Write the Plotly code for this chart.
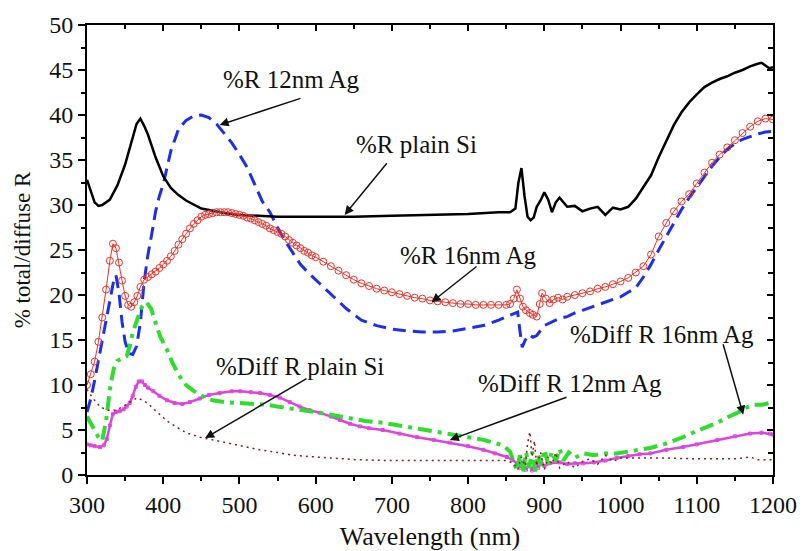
import plotly.graph_objects as go

# ---------------- data ----------------
wl_si = [300,305,310,315,320,330,340,350,360,365,370,375,380,385,390,400,410,420,430,450,480,500,550,600,650,700,750,800,840,855,862,866,870,874,878,882,886,890,895,900,905,910,915,920,930,940,950,960,970,980,990,1000,1010,1020,1030,1040,1050,1060,1070,1080,1090,1100,1110,1120,1130,1140,1150,1160,1170,1180,1185,1190,1195,1200]
r_si = [32.8,31.5,30.3,29.9,30.0,30.6,32.2,34.5,37.5,39.0,39.6,38.8,37.8,36.6,35.3,33.2,31.9,31.1,30.5,29.6,29.1,28.9,28.7,28.7,28.7,28.8,28.9,29.0,29.2,29.2,29.6,32.5,34.1,31.0,28.7,28.3,28.6,29.8,30.5,31.4,30.6,29.2,30.3,30.8,29.8,29.9,29.3,29.6,29.8,28.9,29.7,29.5,29.8,30.7,32.0,33.3,35.3,37.1,38.9,40.3,41.4,42.3,43.1,43.6,44.0,44.3,44.7,45.0,45.4,45.7,45.8,45.5,45.2,45.3]

wl_12 = [300,305,310,315,320,325,330,335,338,342,346,350,355,360,365,370,375,380,385,390,395,400,410,420,430,440,450,460,470,480,490,500,510,520,530,540,550,560,570,580,590,600,620,640,660,680,700,720,740,760,780,800,820,840,855,865,868,871,875,880,885,890,900,910,920,930,940,950,960,970,980,990,1000,1010,1020,1030,1040,1050,1060,1070,1080,1090,1100,1110,1120,1130,1140,1150,1160,1170,1180,1190,1200]
r_12 = [7.0,8.5,10.5,12.8,15.0,17.2,19.5,21.6,22.2,20.2,17.0,14.8,13.5,13.4,14.3,16.9,21.5,24.5,26.8,29.3,31.0,32.3,36.0,38.4,39.4,39.9,40.0,39.7,39.0,38.0,36.9,35.6,34.2,32.3,30.4,29.2,27.5,26.0,24.7,23.4,22.5,21.7,20.0,18.5,17.2,16.6,16.2,16.0,15.9,15.9,16.0,16.3,16.6,17.2,17.7,18.1,16.0,14.2,15.0,15.6,15.3,15.5,16.6,17.0,17.4,17.6,18.0,18.3,18.6,18.9,19.2,19.5,19.8,20.3,20.8,22.0,23.4,25.0,26.5,28.0,29.5,30.8,32.0,33.2,34.3,35.3,36.2,36.8,37.3,37.6,37.9,38.1,38.2]

wl_16 = [300,305,310,315,320,325,330,334,338,342,346,350,354,358,362,366,370,375,380,385,390,395,400,405,410,415,420,425,430,435,440,445,450,455,460,465,470,475,480,485,490,495,500,505,510,515,520,525,530,535,540,545,550,555,560,565,570,575,580,585,590,595,600,610,620,630,640,650,660,670,680,690,700,710,720,730,740,750,760,770,780,790,800,810,820,830,840,850,855,860,864,868,872,876,881,885,890,894,897,902,907,912,918,924,930,940,950,960,970,980,990,1000,1010,1020,1030,1040,1050,1060,1070,1080,1090,1100,1110,1120,1130,1140,1150,1160,1170,1180,1190,1200]
r_16 = [10.0,11.2,12.6,14.8,17.5,20.6,23.8,25.7,25.2,23.6,21.6,19.9,18.9,18.7,19.2,19.9,20.9,21.7,22.0,22.3,22.6,23.0,23.4,23.8,24.3,24.9,25.6,26.2,26.8,27.4,27.9,28.3,28.7,28.9,29.0,29.1,29.2,29.2,29.2,29.2,29.1,29.0,28.9,28.8,28.6,28.5,28.3,28.1,27.9,27.7,27.4,27.2,27.0,26.8,26.5,26.1,25.8,25.5,25.2,24.9,24.7,24.4,24.2,23.7,23.2,22.7,22.2,21.7,21.3,21.0,20.7,20.5,20.3,20.1,19.9,19.7,19.6,19.4,19.3,19.2,19.1,19.0,19.0,18.9,18.9,18.9,18.9,18.9,19.0,19.6,20.6,19.6,18.7,18.3,18.0,17.8,17.6,19.0,20.2,19.6,19.1,19.5,19.7,19.5,19.8,20.0,20.2,20.4,20.7,20.9,21.2,21.5,21.9,22.5,23.2,24.5,26.5,28.0,29.3,30.4,31.2,32.4,33.6,34.7,35.6,36.4,37.2,38.0,38.7,39.3,39.6,39.5]

wl_dsi = [300,308,317,326,339,347,356,366,373,379,392,405,418,430,448,470,484,500,527,550,570,600,615,654,700,800,850,860,865,870,875,878,881,884,887,890,895,900,905,910,915,920,930,940,950,960,970,980,990,1000,1050,1100,1150,1170,1180,1200]
d_si = [9.5,8.5,7.6,7.2,7.2,7.6,8.1,8.6,8.3,8.0,7.0,6.0,5.3,4.7,4.2,3.8,3.6,3.3,2.8,2.5,2.2,2.0,1.9,1.7,1.6,1.6,1.6,1.3,0.6,2.0,1.0,3.5,4.8,2.0,3.8,1.0,2.5,0.6,2.0,1.2,2.5,0.8,1.5,0.8,1.5,1.8,1.2,2.2,1.5,1.9,1.9,1.8,1.8,2.0,1.7,1.7]

wl_d12 = [300,305,310,317,322,326,330,334,338,343,348,352,356,360,364,368,372,376,380,387,395,405,415,425,435,448,460,474,490,501,515,527,540,553,566,579,592,606,620,632,645,658,670,688,710,733,755,776,800,820,835,851,858,864,868,872,876,880,884,888,892,896,900,907,920,930,940,951,965,980,995,1010,1025,1039,1060,1082,1100,1127,1150,1170,1185,1196,1200]
d_12 = [3.4,3.3,3.2,3.1,3.3,4.0,5.5,6.8,7.0,7.1,7.3,7.6,8.0,8.8,9.8,10.4,10.4,10.0,9.7,9.3,8.8,8.3,8.0,7.9,8.1,8.5,8.9,9.1,9.3,9.3,9.2,9.1,8.9,8.6,8.1,7.6,7.2,6.9,6.5,6.1,5.7,5.4,5.2,5.0,4.6,4.2,3.9,3.6,3.2,2.8,2.4,2.0,1.7,1.3,0.8,1.5,0.6,1.2,0.5,1.4,0.8,1.5,1.0,1.3,1.4,1.2,1.3,1.3,1.4,1.6,1.9,2.1,2.3,2.4,2.8,3.1,3.4,3.9,4.3,4.6,4.7,4.6,4.5]

wl_d16 = [300,305,310,315,320,325,330,335,340,346,352,356,360,366,372,378,384,390,396,405,413,422,430,439,450,465,480,501,520,536,550,570,590,606,625,645,665,688,710,733,755,776,800,820,835,846,855,860,864,868,872,876,880,884,888,892,896,900,905,910,915,920,925,932,940,951,965,980,995,1010,1025,1039,1060,1082,1100,1115,1127,1140,1153,1165,1175,1185,1196,1200]
d_16 = [6.5,5.8,5.0,4.2,3.8,6.0,9.5,11.8,12.7,12.9,13.2,14.3,15.8,17.3,18.7,19.2,18.5,16.9,15.4,13.9,12.3,10.9,10.0,9.4,8.8,8.3,8.1,8.0,7.9,7.8,7.6,7.4,7.1,6.9,6.6,6.3,6.0,5.8,5.5,5.2,4.9,4.6,4.2,3.9,3.6,3.3,2.6,1.5,0.5,2.2,0.3,2.5,0.8,2.6,0.4,2.3,1.0,2.8,1.2,2.6,1.5,2.9,1.6,2.5,1.9,2.4,2.2,2.4,2.4,2.6,2.8,3.0,3.5,4.2,4.9,5.4,5.8,6.4,6.9,7.5,7.8,7.8,8.0,7.9]

x_ticks = [300, 400, 500, 600, 700, 800, 900, 1000, 1100, 1200]
y_ticks = [0, 5, 10, 15, 20, 25, 30, 35, 40, 45, 50]

# annotation labels: (text, text_x, text_y, tail_x, tail_y, head_x, head_y)
labels = [
    ("%R 12nm Ag", 568, 43.9, 582, 41.9, 474, 38.9),
    ("%R plain Si", 732, 36.7, 695, 34.8, 638, 28.9),
    ("%R 16nm Ag", 801, 24.4, 813, 23.3, 752, 19.2),
    ("%Diff R plain Si", 580, 12.1, 590, 10.8, 455, 4.1),
    ("%Diff R 12nm Ag", 934, 10.2, 931, 8.7, 776, 3.9),
    ("%Diff R 16nm Ag", 1054, 15.6, 1134, 14.7, 1161, 6.7),
]

FONT = "Liberation Serif"

fig = go.Figure()
fig.add_trace(go.Scatter(x=wl_12, y=r_12, mode="lines", line=dict(color="#1f2fe6", width=3, dash="13px,7px")))
fig.add_trace(go.Scatter(x=wl_si, y=r_si, mode="lines", line=dict(color="#000000", width=2.5)))
fig.add_trace(go.Scatter(x=wl_16, y=r_16, mode="lines+markers", line=dict(color="#e8322a", width=1),
                         marker=dict(symbol="circle-open", size=7, color="#e8322a", line=dict(width=1))))
fig.add_trace(go.Scatter(x=wl_d12, y=d_12, mode="lines+markers", line=dict(color="#dd44dd", width=2.5),
                         marker=dict(symbol="square-open", size=3, color="#dd44dd", line=dict(width=1))))
fig.add_trace(go.Scatter(x=wl_d16, y=d_16, mode="lines", line=dict(color="#2fdc2f", width=4, dash="14px,6px,4px,6px")))
fig.add_trace(go.Scatter(x=wl_dsi, y=d_si, mode="lines", line=dict(color="#8b1c1c", width=1.5, dash="2px,4px")))
# invisible trace to activate the mirrored axes
fig.add_trace(go.Scatter(x=[x_ticks[0]], y=[y_ticks[0]], xaxis="x2", yaxis="y2", mode="markers",
                         marker=dict(opacity=0), hoverinfo="skip"))

for text, tx, ty, ax_, ay_, hx, hy in labels:
    fig.add_annotation(x=tx, y=ty, xref="x", yref="y", text=text, showarrow=False,
                       font=dict(family=FONT, size=25, color="#111111"))
    fig.add_annotation(x=hx, y=hy, ax=ax_, ay=ay_, xref="x", yref="y", axref="x", ayref="y",
                       text="", showarrow=True, arrowhead=2, arrowsize=1.2, arrowwidth=1.5, arrowcolor="#111111")

xr = [x_ticks[0], x_ticks[-1]]
yr = [y_ticks[0], y_ticks[-1]]
fig.update_layout(
    width=805, height=551,
    margin=dict(l=87, r=32, t=25, b=76, autoexpand=False),
    paper_bgcolor="white", plot_bgcolor="white",
    showlegend=False,
    font=dict(family=FONT, size=24, color="#111111"),
    xaxis=dict(range=xr, tickvals=x_ticks, showgrid=False, zeroline=False, showline=True, linewidth=2,
               linecolor="black", ticks="outside", ticklen=7, tickwidth=2, tickcolor="black", automargin=False,
               minor=dict(ticks="outside", ticklen=4, tickwidth=1.5, dtick=50, tick0=300, tickcolor="black"),
               title=dict(text="Wavelength (nm)", standoff=12, font=dict(family=FONT, size=26)),
               tickfont=dict(family=FONT, size=24)),
    yaxis=dict(range=yr, tickvals=y_ticks, showgrid=False, zeroline=False, showline=True, linewidth=2,
               linecolor="black", ticks="outside", ticklen=7, tickwidth=2, tickcolor="black", automargin=False,
               minor=dict(ticks="outside", ticklen=4, tickwidth=1.5, dtick=2.5, tick0=0, tickcolor="black"),
               title=dict(text="% total/diffuse R", standoff=12, font=dict(family=FONT, size=23)),
               tickfont=dict(family=FONT, size=24)),
    xaxis2=dict(range=xr, tickvals=x_ticks, overlaying="x", side="top", anchor="y", showgrid=False,
                zeroline=False, showline=True, linewidth=2, linecolor="black", ticks="inside", ticklen=6,
                tickwidth=2, tickcolor="black", showticklabels=False, automargin=False,
                minor=dict(ticks="inside", ticklen=4, tickwidth=1.5, dtick=50, tick0=300, tickcolor="black")),
    yaxis2=dict(range=yr, tickvals=y_ticks, overlaying="y", side="right", anchor="x", showgrid=False,
                zeroline=False, showline=True, linewidth=2, linecolor="black", ticks="inside", ticklen=6,
                tickwidth=2, tickcolor="black", showticklabels=False, automargin=False,
                minor=dict(ticks="inside", ticklen=5, tickwidth=1.5, dtick=2.5, tick0=0, tickcolor="black")),
)

fig.write_html("out.html")
